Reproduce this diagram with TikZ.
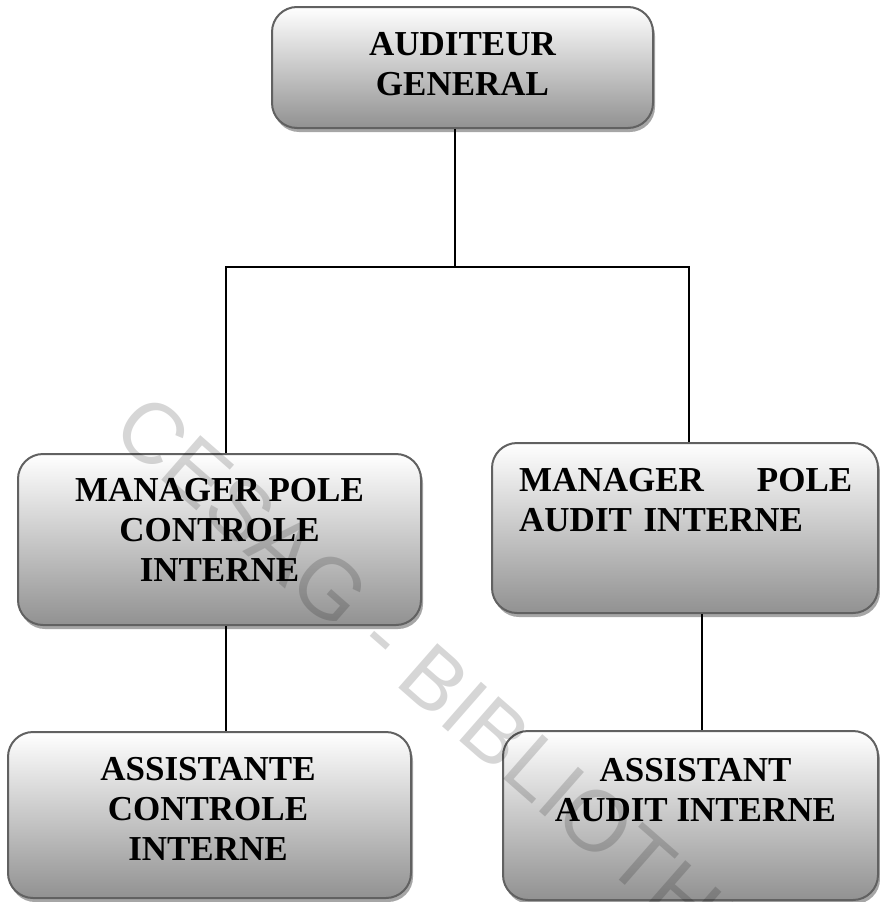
\documentclass[tikz,border=0pt]{standalone}
\usepackage{fontspec}
\setmainfont{Liberation Serif}
\newfontfamily\stampfont{Liberation Sans}
\usetikzlibrary{calc,positioning,shadows}

\begin{document}
\begin{tikzpicture}[x=1pt,y=-1pt,
  orgbox/.style n args={2}{rectangle, rounded corners=25pt, draw=black!62, line width=2pt,
    top color=white, middle color=black!17, bottom color=black!43,
    drop shadow={shadow xshift=2pt,shadow yshift=-4pt,fill=black!35,opacity=1},
    minimum width=#1, minimum height=#2, inner sep=0pt},
  boxtext/.style={font=\bfseries\fontsize{35}{40}\selectfont, align=center, inner sep=0pt},
  link/.style={line width=1.6pt},
  stamp/.style={font=\stampfont\fontsize{86}{86}\selectfont, text=black, text opacity=0.16, inner sep=0pt}]
\useasboundingbox (0,0) rectangle (880,902);

\node[orgbox={381pt}{121pt}] at (462.5,67.5) (top) {};
\node[orgbox={403pt}{171pt}] at (219.5,539.5) (mgrci) {};
\node[orgbox={386pt}{170pt}] at (685,528) (mgrai) {};
\node[orgbox={403pt}{166pt}] at (209.5,815) (asci) {};
\node[orgbox={375pt}{169pt}] at (690.5,815.5) (asai) {};

\node[boxtext, below=26pt of top.north] (toptxt) {AUDITEUR\\GENERAL};
\node[boxtext, below=25pt of mgrci.north] (mgrcitxt) {MANAGER POLE\\CONTROLE\\INTERNE};
\node[boxtext, align=left, text width=333pt, below right=26pt and 28pt of mgrai.north west] (mgraitxt) {MANAGER\hfill POLE\\AUDIT INTERNE};
\node[boxtext, below=26pt of asci.north, xshift=-1.5pt] (ascitxt) {ASSISTANTE\\CONTROLE\\INTERNE};
\node[boxtext, below=28pt of asai.north, xshift=5pt] (asaitxt) {ASSISTANT\\AUDIT INTERNE};

\coordinate (fork) at (455,267);
\coordinate (lcol) at (226,0);
\coordinate (rcol) at (689,0);
\coordinate (rlow) at (702,0);
\draw[link] (top.south -| fork) -- (fork);
\draw[link] (mgrci.north -| lcol) |- (fork) -| (mgrai.north -| rcol);
\draw[link] (mgrci.south -| lcol) -- (asci.north -| lcol);
\draw[link] (mgrai.south -| rlow) -- (asai.north -| rlow);

\begin{scope}
\clip (0,0) rectangle (880,902);
\node[stamp, rotate=-41.2, anchor=west] at (124,418) (wm) {CESAG - BIBLIOTHEQUE};
\end{scope}
\end{tikzpicture}
\end{document}
